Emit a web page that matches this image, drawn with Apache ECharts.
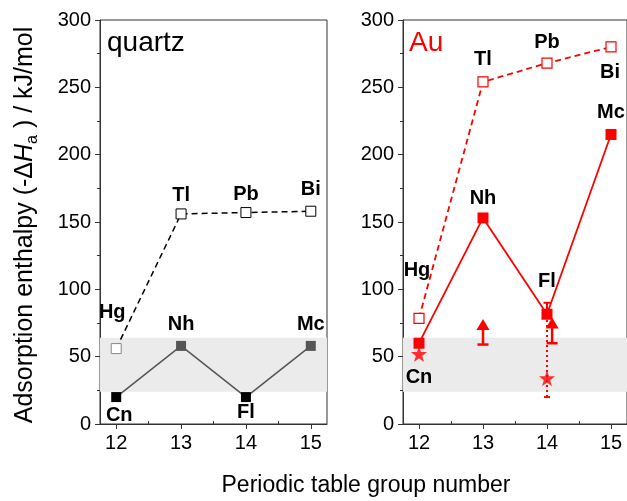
<!DOCTYPE html>
<html>
<head>
<meta charset="utf-8">
<script src="https://cdn.jsdelivr.net/npm/echarts@6/dist/echarts.min.js"></script>
<style>
  html, body { margin: 0; padding: 0; background: #fff; }
  #chart { width: 627px; height: 501px; }
</style>
</head>
<body>
<div id="chart"></div>
<script>
// group numbers on the x axis
const groups = [12, 13, 14, 15]
const majorTicks = [12, 13, 14, 15]
const minorTicks = [12.5, 13.5, 14.5]

// quartz surface
const quartzOpenNames = ['Hg', 'Tl', 'Pb', 'Bi']
const quartzOpen = [56, 156, 157, 158]
const quartzFilledNames = ['Cn', 'Nh', 'Fl', 'Mc']
const quartzFilled = [20, 58, 20, 58]

// gold surface
const auOpenNames = ['Hg', 'Tl', 'Pb', 'Bi']
const auOpen = [78.5, 254, 268, 280]
const auFilledNames = ['Cn', 'Nh', 'Fl', 'Mc']
const auFilled = [60, 153, 81.5, 215]

// experimental points on gold (stars) and lower limits (arrows)
const auStarX = [12, 14]
const auStar = [52, 34]
const auStarErrLow = [20]   // dotted bar for the Fl star
const auStarErrHigh = [80]
const auFlErrHigh = [90]    // upper whisker on the Fl square
const auLimitX = [13, 14.08]
const auLimitLow = [59, 60]
const auLimitHigh = [78, 79]

// shaded band (kJ/mol)
const bandLow = 24
const bandHigh = 64

const FONT = 'Arial, "Liberation Sans", sans-serif'
const RED = '#ff0000'

// label placement: [position, distance, dx]
const quartzOpenLabels = [['top', 21, -4], ['top', 3, 0], ['top', 3, 0], ['top', 6, 0]]
const quartzFilledLabels = [['bottom', 3, 3], ['top', 6, 0], ['bottom', 0, 0], ['top', 6, 0]]
const auOpenLabels = [['top', 32, -2], ['top', 7, 0], ['top', 5, 0], ['bottom', 10, -1]]
const auFilledLabels = [['bottom', 19, 0], ['top', 4, 0], ['top', 17, 0], ['top', 6, 0]]

function points(values, names, placement, extra) {
  return values.map((v, i) => {
    const p = placement[i]
    const item = {
      value: [groups[i], v],
      label: {
        show: true,
        formatter: names[i],
        position: p[0],
        distance: p[1],
        offset: [p[2], 0],
        fontFamily: FONT,
        fontWeight: 'bold',
        fontSize: 20,
        color: '#000'
      }
    }
    if (extra && extra[i]) item.itemStyle = extra[i]
    return item
  })
}

const chart = echarts.init(document.getElementById('chart'))

const grids = [
  { left: 100, top: 20, width: 227, height: 404 },
  { left: 403, top: 20, width: 226, height: 404 }
]

function xAxes(gridIndex) {
  return [{
    type: 'value',
    gridIndex,
    min: 11.75,
    max: 15.25,
    axisLine: { show: true, onZero: false, lineStyle: { color: '#333', width: 1 } },
    axisTick: { show: true, length: 5, customValues: majorTicks, lineStyle: { color: '#333' } },
    axisLabel: { customValues: majorTicks, margin: 9, fontFamily: FONT, fontSize: 20, color: '#000' },
    splitLine: { show: false }
  }, {
    type: 'value',
    gridIndex,
    min: 11.75,
    max: 15.25,
    axisLine: { show: false },
    axisTick: { show: true, length: 3, customValues: minorTicks, lineStyle: { color: '#333' } },
    axisLabel: { show: false, customValues: minorTicks },
    splitLine: { show: false }
  }]
}

function yAxis(gridIndex) {
  return {
    type: 'value',
    gridIndex,
    min: 0,
    max: 300,
    interval: 50,
    axisLine: { show: true, onZero: false, lineStyle: { color: '#333', width: 1 } },
    axisTick: { show: true, length: 5, lineStyle: { color: '#333' } },
    minorTick: { show: true, splitNumber: 2, length: 3, lineStyle: { color: '#333' } },
    axisLabel: { margin: 9, fontFamily: FONT, fontSize: 20, color: '#000' },
    splitLine: { show: false }
  }
}

function band(xi, yi) {
  return {
    type: 'line',
    xAxisIndex: xi,
    yAxisIndex: yi,
    data: [],
    z: 0,
    silent: true,
    markArea: {
      silent: true,
      itemStyle: { color: '#ebebeb' },
      data: [[{ yAxis: bandLow }, { yAxis: bandHigh }]]
    }
  }
}

// lower-limit arrow: bar from low up to a triangle at high, cap at low
function renderArrow(params, api) {
  const x = api.value(0)
  const lo = api.coord([x, api.value(1)])
  const hi = api.coord([x, api.value(2)])
  const h = 10
  const style = { stroke: RED, lineWidth: 2.5, fill: null }
  return {
    type: 'group',
    children: [
      { type: 'line', shape: { x1: lo[0], y1: lo[1], x2: lo[0], y2: hi[1] + h }, style },
      { type: 'line', shape: { x1: lo[0] - 5.5, y1: lo[1], x2: lo[0] + 5.5, y2: lo[1] }, style },
      { type: 'polygon', shape: { points: [[hi[0], hi[1]], [hi[0] - 6.5, hi[1] + h + 1], [hi[0] + 6.5, hi[1] + h + 1]] }, style: { fill: RED } }
    ]
  }
}

// whisker from value(1) to value(2), cap at the end given by value(3) (0 = low, 1 = high)
function makeWhisker(dashed, capWidth) {
  return function (params, api) {
    const x = api.value(0)
    const lo = api.coord([x, api.value(1)])
    const hi = api.coord([x, api.value(2)])
    const capAt = api.value(3) === 0 ? lo : hi
    const style = { stroke: RED, lineWidth: 2, lineDash: dashed ? [2, 3] : null, fill: null }
    return {
      type: 'group',
      children: [
        { type: 'line', shape: { x1: lo[0], y1: lo[1], x2: hi[0], y2: hi[1] }, style },
        { type: 'line', shape: { x1: capAt[0] - capWidth, y1: capAt[1], x2: capAt[0] + capWidth, y2: capAt[1] }, style: { stroke: RED, lineWidth: 2 } }
      ]
    }
  }
}

const starPath = 'path://M0,-10L2.35,-3.24L9.51,-3.09L3.8,1.24L5.88,8.09L0,4L-5.88,8.09L-3.8,1.24L-9.51,-3.09L-2.35,-3.24Z'

const option = {
  animation: false,
  backgroundColor: '#fff',
  grid: grids.map(g => Object.assign({ show: true, borderColor: '#333', borderWidth: 1, backgroundColor: 'transparent' }, g)),
  xAxis: [...xAxes(0), ...xAxes(1)],
  yAxis: [yAxis(0), yAxis(1)],
  graphic: [
    { type: 'text', x: 107, y: 43, style: { text: 'quartz', font: '28px ' + FONT, fill: '#000', verticalAlign: 'middle' } },
    { type: 'text', x: 409, y: 43, style: { text: 'Au', font: '28px ' + FONT, fill: RED, verticalAlign: 'middle' } },
    {
      type: 'text', x: 25, y: 225, rotation: Math.PI / 2,
      style: {
        text: '{n|Adsorption enthalpy (-Δ}{i|H}{s|a}{n| ) / kJ/mol}',
        align: 'center', verticalAlign: 'middle',
        rich: {
          n: { fontFamily: FONT, fontSize: 25, lineHeight: 31, fill: '#000' },
          i: { fontFamily: FONT, fontSize: 25, lineHeight: 31, fontStyle: 'italic', fill: '#000' },
          s: { fontFamily: FONT, fontSize: 16, lineHeight: 16, verticalAlign: 'bottom', fill: '#000' }
        }
      }
    },
    { type: 'text', x: 366, y: 486, style: { text: 'Periodic table group number', font: '23px ' + FONT, fill: '#000', align: 'center', verticalAlign: 'middle' } }
  ],
  series: [
    band(0, 0),
    {
      type: 'line', xAxisIndex: 0, yAxisIndex: 0,
      symbol: 'rect', symbolSize: 10,
      lineStyle: { color: '#000', width: 1.5, type: [6, 4] },
      itemStyle: { color: '#fff', borderColor: '#000', borderWidth: 1 },
      data: points(quartzOpen, quartzOpenNames, quartzOpenLabels, [{ color: '#fff', borderColor: '#888', borderWidth: 1 }])
    },
    {
      type: 'line', xAxisIndex: 0, yAxisIndex: 0,
      symbol: 'rect', symbolSize: 10,
      lineStyle: { color: '#555', width: 1.5 },
      itemStyle: { color: '#555', borderWidth: 0 },
      data: points(quartzFilled, quartzFilledNames, quartzFilledLabels, [{ color: '#000' }, null, { color: '#000' }, null])
    },
    band(2, 1),
    {
      type: 'line', xAxisIndex: 2, yAxisIndex: 1,
      symbol: 'rect', symbolSize: 10,
      lineStyle: { color: RED, width: 1.8, type: [6, 4] },
      itemStyle: { color: '#fff', borderColor: RED, borderWidth: 1.2 },
      data: points(auOpen, auOpenNames, auOpenLabels)
    },
    {
      type: 'custom', xAxisIndex: 2, yAxisIndex: 1, z: 2,
      renderItem: makeWhisker(true, 3),
      data: [[auStarX[1], auStarErrLow[0], auStarErrHigh[0], 0]]
    },
    {
      type: 'custom', xAxisIndex: 2, yAxisIndex: 1, z: 2,
      renderItem: makeWhisker(false, 3.5),
      data: [[groups[2], auFilled[2], auFlErrHigh[0], 1]]
    },
    {
      type: 'line', xAxisIndex: 2, yAxisIndex: 1, z: 3,
      symbol: 'rect', symbolSize: 11,
      lineStyle: { color: RED, width: 1.8 },
      itemStyle: { color: RED, borderWidth: 0 },
      data: points(auFilled, auFilledNames, auFilledLabels)
    },
    {
      type: 'scatter', xAxisIndex: 2, yAxisIndex: 1, z: 4,
      symbol: starPath, symbolSize: 16,
      itemStyle: { color: RED },
      data: auStarX.map((x, i) => [x, auStar[i]])
    },
    {
      type: 'custom', xAxisIndex: 2, yAxisIndex: 1, z: 4,
      renderItem: renderArrow,
      data: auLimitX.map((x, i) => [x, auLimitLow[i], auLimitHigh[i]])
    }
  ]
}

chart.setOption(option)
</script>
</body>
</html>
